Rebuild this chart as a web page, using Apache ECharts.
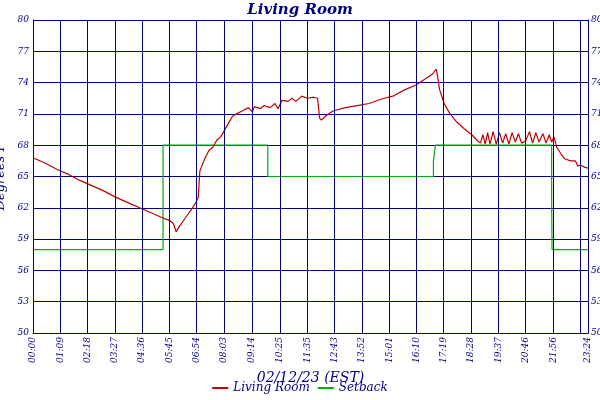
<!DOCTYPE html>
<html><head><meta charset="utf-8">
<script src="https://cdn.jsdelivr.net/npm/echarts@6/dist/echarts.min.js"></script>
<style>html,body{margin:0;padding:0;background:#fff}#c{width:600px;height:400px}</style>
</head><body><div id="c"></div>
<script>
const tickMinutes=[0,69,138,207,276,345,414,483,554,625,695,763,832,901,970,1039,1108,1177,1246,1316,1384,1404];
const tickLabels=['00:00','01:09','02:18','03:27','04:36','05:45','06:54','08:03','09:14','10:25','11:35','12:43','13:52','15:01','16:10','17:19','18:28','19:37','20:46','21:56','23:04','23:24'];
const yTicks=[50,53,56,59,62,65,68,71,74,77,80];
const roomMin=[0,30,60,90,120,150,180,210,240,270,300,330,345,355,362,370,385,400,412,418,422,432,445,455,465,475,490,505,515,530,545,555,560,575,585,600,612,620,630,645,655,665,680,695,710,720,725,730,740,760,790,820,850,880,910,940,970,990,1010,1020,1024,1028,1040,1055,1070,1090,1110,1125,1132,1138,1144,1150,1156,1164,1172,1180,1188,1196,1204,1212,1220,1228,1236,1246,1256,1264,1272,1280,1290,1298,1306,1312,1318,1325,1335,1345,1360,1372,1378,1385,1395,1404];
const roomVal=[66.8,66.3,65.7,65.2,64.6,64.1,63.6,63.0,62.5,62.0,61.5,61.0,60.8,60.5,59.7,60.2,61.0,61.8,62.5,63.0,65.5,66.5,67.5,67.8,68.5,68.8,69.8,70.8,71.0,71.3,71.6,71.2,71.7,71.5,71.8,71.6,72.0,71.5,72.3,72.2,72.5,72.2,72.7,72.5,72.6,72.5,70.6,70.4,70.8,71.3,71.6,71.8,72.0,72.4,72.7,73.3,73.8,74.3,74.8,75.3,74.5,73.4,72.0,71.0,70.3,69.6,69.0,68.4,68.2,69.0,68.1,69.2,68.1,69.3,68.1,69.2,68.2,69.1,68.1,69.2,68.3,69.1,68.2,68.4,69.3,68.2,69.2,68.3,69.1,68.2,69.0,68.3,68.8,67.8,67.2,66.7,66.5,66.5,66.0,66.1,65.9,65.8];
const setMin=[0,329,594,1013,1018,1312,1313,1404];
const setVal=[58,68,65,66.5,68,63,58,58];
const navy='#000080', font='"DejaVu Serif", serif';
const zip=(a,b)=>a.map((v,i)=>[v,b[i]]);
const ch=echarts.init(document.getElementById('c'));
const axisLbl={color:navy,fontFamily:font,fontStyle:'italic',fontSize:9};
ch.setOption({
 animation:false,backgroundColor:'#fff',
 title:{text:'Living Room',left:'center',top:-2,textStyle:{color:navy,fontFamily:font,fontStyle:'italic',fontWeight:'bold',fontSize:15}},
 grid:{left:33,right:12,top:20,bottom:67,containLabel:false,outerBoundsMode:'none'},
 xAxis:{type:'value',min:0,max:1404,
  axisLine:{show:true,lineStyle:{color:navy,width:1}},axisTick:{show:false},splitLine:{show:false},
  axisLabel:Object.assign({},axisLbl,{rotate:90,margin:4,hideOverlap:false,showMaxLabel:true,showMinLabel:true,customValues:tickMinutes,formatter:v=>tickLabels[tickMinutes.indexOf(v)]||''}),
  name:'02/12/23 (EST)',nameLocation:'middle',nameGap:38,nameTextStyle:{color:navy,fontFamily:font,fontStyle:'italic',fontSize:14}},
 yAxis:[{type:'value',min:50,max:80,interval:3,position:'left',
  axisLine:{show:true,lineStyle:{color:navy}},axisTick:{show:false},
  splitLine:{show:true,lineStyle:{color:navy,width:1}},axisLabel:Object.assign({},axisLbl,{margin:4}),
  name:'Degrees F',nameLocation:'middle',nameGap:22,nameTextStyle:{color:navy,fontFamily:font,fontStyle:'italic',fontSize:13}},
  {type:'value',min:50,max:80,interval:3,position:'right',
  axisLine:{show:true,lineStyle:{color:navy}},axisTick:{show:false},splitLine:{show:false},axisLabel:Object.assign({},axisLbl,{margin:3})}],
 legend:{bottom:1,left:'center',itemWidth:16,itemHeight:2,icon:'rect',textStyle:{color:navy,fontFamily:font,fontStyle:'italic',fontSize:12},data:['Living Room','Setback']},
 series:[
  {name:'Setback',type:'line',step:'end',data:zip(setMin,setVal),showSymbol:false,lineStyle:{color:'#00b000',width:1.2},itemStyle:{color:'#00b000'},z:3,
   markLine:{silent:true,symbol:'none',label:{show:false},lineStyle:{color:navy,type:'solid',width:1},data:tickMinutes.map(m=>({xAxis:m}))}},
  {name:'Living Room',type:'line',data:zip(roomMin,roomVal),showSymbol:false,lineStyle:{color:'#c00000',width:1.2},itemStyle:{color:'#c00000'},z:4}
 ]
});
</script></body></html>
